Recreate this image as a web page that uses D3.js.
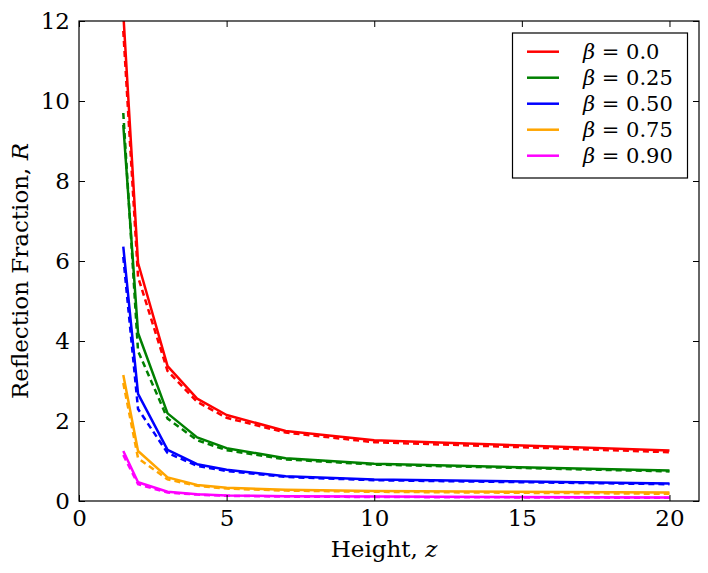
<!DOCTYPE html>
<html><head><meta charset="utf-8">
<script src="https://cdn.jsdelivr.net/npm/d3@7"></script>
<style>body{margin:0;background:#fff}svg{display:block}text{font-family:"DejaVu Serif",serif}</style>
</head><body>
<svg id="c" width="708" height="573"></svg>
<script>
const heights = [1.5, 2, 3, 4, 5, 7, 10, 20];
const betaLabels = ["0.0", "0.25", "0.50", "0.75", "0.90"];
const colors = ["#ff0000", "#008000", "#0000ff", "#ffa500", "#ff00ff"];
const solid00 = [12.2, 5.95, 3.37, 2.56, 2.15, 1.75, 1.52, 1.26];
const solid25 = [9.4, 4.2, 2.19, 1.59, 1.32, 1.07, 0.93, 0.76];
const solid50 = [6.36, 2.68, 1.28, 0.92, 0.78, 0.62, 0.54, 0.44];
const solid75 = [3.15, 1.25, 0.59, 0.40, 0.33, 0.28, 0.25, 0.21];
const solid90 = [1.25, 0.47, 0.23, 0.17, 0.14, 0.12, 0.11, 0.09];
const dash00 = [11.75, 5.6, 3.25, 2.48, 2.08, 1.71, 1.47, 1.22];
const dash25 = [9.7, 3.75, 2.06, 1.52, 1.27, 1.04, 0.91, 0.74];
const dash50 = [6.1, 2.3, 1.2, 0.88, 0.75, 0.60, 0.52, 0.42];
const dash75 = [2.95, 1.07, 0.54, 0.38, 0.31, 0.26, 0.23, 0.18];
const dash90 = [1.15, 0.42, 0.21, 0.16, 0.13, 0.11, 0.10, 0.08];
const xTicks = [0, 5, 10, 15, 20];
const yTicks = [0, 2, 4, 6, 8, 10, 12];

const solids = [solid00, solid25, solid50, solid75, solid90];
const dashes = [dash00, dash25, dash50, dash75, dash90];

const L = 79, R = 699, T = 21, B = 501;
const svg = d3.select("#c");
const x = d3.scaleLinear().domain([0, 21]).range([L, R]);
const y = d3.scaleLinear().domain([0, 12]).range([B, T]);

svg.append("clipPath").attr("id", "clip").append("rect")
  .attr("x", L).attr("y", T).attr("width", R - L).attr("height", B - T);

const line = d3.line().x(d => x(d[0])).y(d => y(d[1]));
const g = svg.append("g").attr("clip-path", "url(#clip)");
solids.forEach((s, i) => {
  g.append("path").attr("d", line(heights.map((h, j) => [h, s[j]])))
    .attr("fill", "none").attr("stroke", colors[i]).attr("stroke-width", 2.5)
    .attr("stroke-linejoin", "round");
  g.append("path").attr("d", line(heights.map((h, j) => [h, dashes[i][j]])))
    .attr("fill", "none").attr("stroke", colors[i]).attr("stroke-width", 2.5)
    .attr("stroke-dasharray", "6,4");
});

// axes (ticks inside on all sides)
const tickLen = 6;
const axB = svg.append("g").attr("transform", `translate(0,${B})`)
  .call(d3.axisBottom(x).tickValues(xTicks).tickSizeInner(-tickLen).tickSizeOuter(0).tickPadding(9));
const axT = svg.append("g").attr("transform", `translate(0,${T})`)
  .call(d3.axisTop(x).tickValues(xTicks).tickSizeInner(-tickLen).tickSizeOuter(0).tickFormat(""));
const axL = svg.append("g").attr("transform", `translate(${L},0)`)
  .call(d3.axisLeft(y).tickValues(yTicks).tickSizeInner(-tickLen).tickSizeOuter(0).tickPadding(9));
const axR = svg.append("g").attr("transform", `translate(${R},0)`)
  .call(d3.axisRight(y).tickValues(yTicks).tickSizeInner(-tickLen).tickSizeOuter(0).tickFormat(""));
[axB, axT, axL, axR].forEach(a => {
  a.attr("font-family", null).attr("font-size", null);
  a.select(".domain").remove();
  a.selectAll("line").attr("stroke", "#000").attr("stroke-width", 1);
  a.selectAll("text").style("font-family", "'DejaVu Serif', serif").style("font-size", "23px").attr("fill", "#000");
});
axB.selectAll("text").attr("dy", "0.71em");
svg.append("rect").attr("x", L).attr("y", T).attr("width", R - L).attr("height", B - T)
  .attr("fill", "none").attr("stroke", "#000").attr("stroke-width", 1.2);

// axis labels
const xl = svg.append("text").attr("x", (L + R) / 2 - 5).attr("y", 557).attr("text-anchor", "middle")
  .style("font-size", "23px");
xl.append("tspan").text("Height, ");
xl.append("tspan").attr("font-style", "italic").text("z");
const yl = svg.append("text").attr("transform", `translate(28,${(T + B) / 2 + 10}) rotate(-90)`)
  .attr("text-anchor", "middle").style("font-size", "23px");
yl.append("tspan").text("Reflection Fraction, ");
yl.append("tspan").attr("font-style", "italic").text("R");

// legend
const lg = svg.append("g");
lg.append("rect").attr("x", 512.5).attr("y", 33).attr("width", 175).attr("height", 145)
  .attr("fill", "#fff").attr("stroke", "#000").attr("stroke-width", 1.2);
betaLabels.forEach((b, i) => {
  const yy = 51.7 + i * 26;
  lg.append("line").attr("x1", 527).attr("x2", 559).attr("y1", yy).attr("y2", yy)
    .attr("stroke", colors[i]).attr("stroke-width", 2.5);
  const t = lg.append("text").attr("x", 583).attr("y", yy).attr("dy", "0.35em").style("font-size", "21px");
  t.append("tspan").attr("font-style", "italic").text("β");
  t.append("tspan").text(" = " + b);
});
</script>
</body></html>
